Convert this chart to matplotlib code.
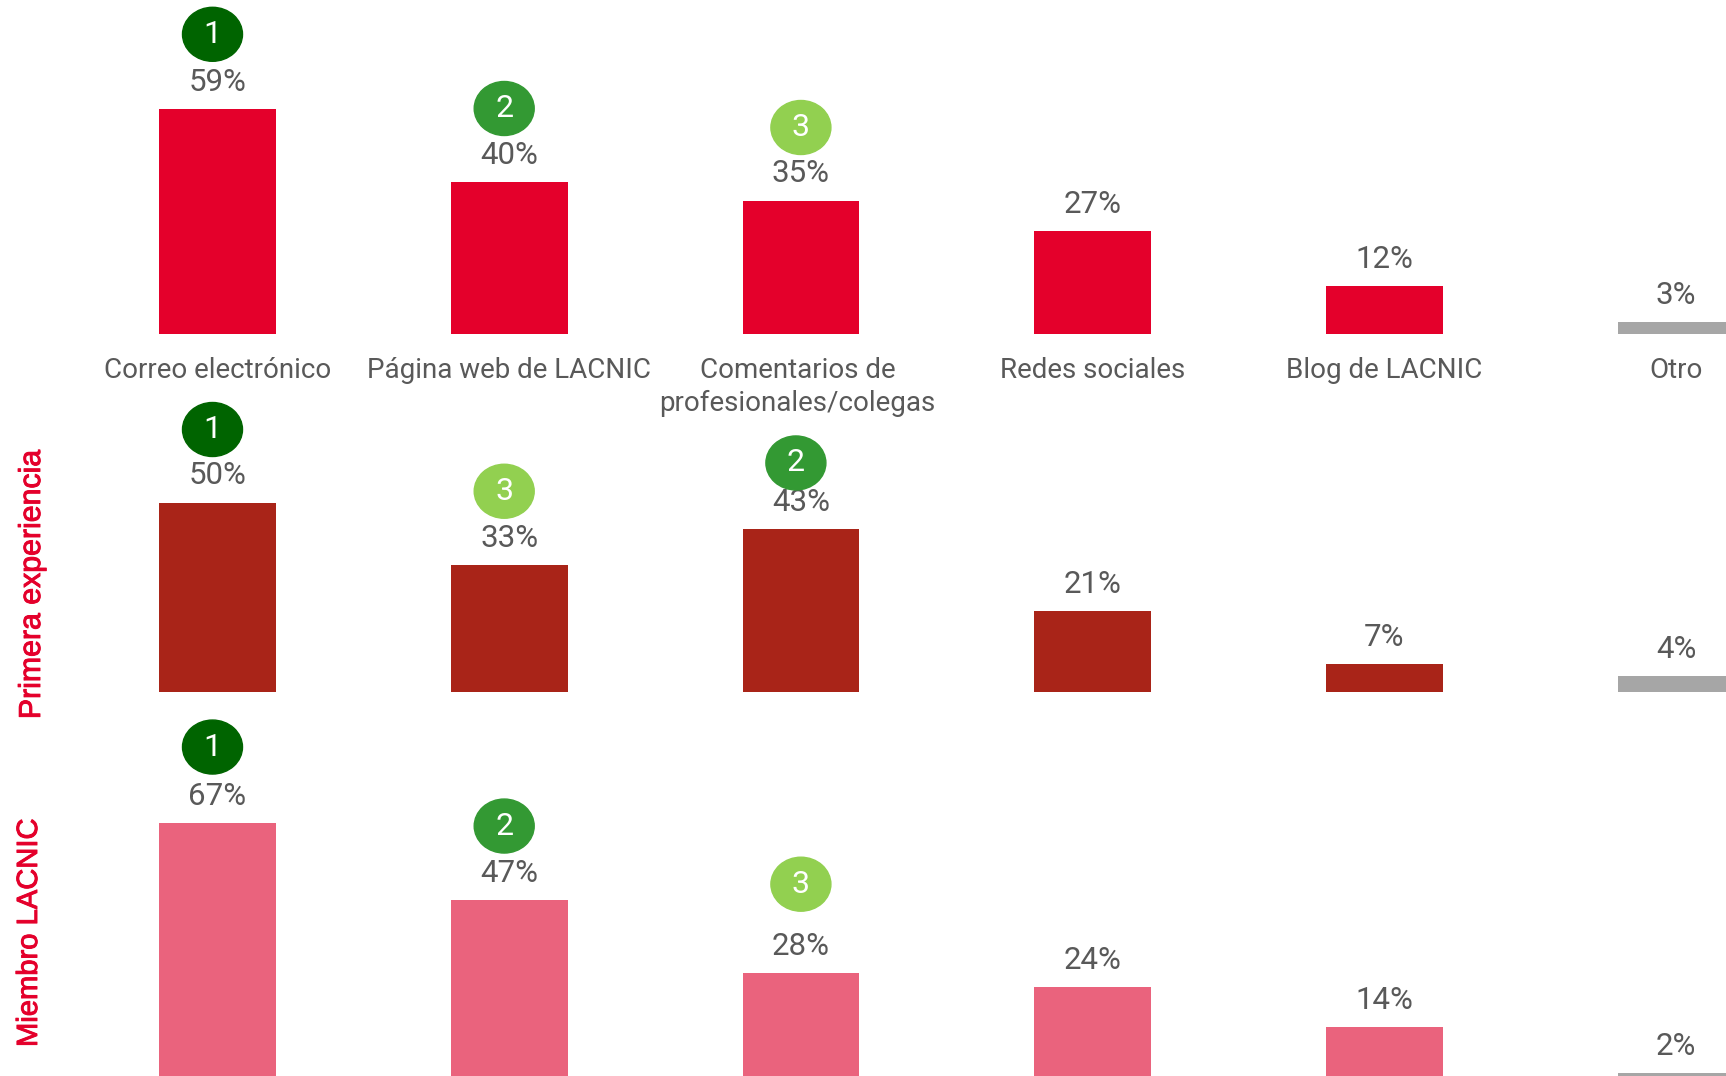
#!/usr/bin/env python
import matplotlib
matplotlib.use("Agg")
import matplotlib.pyplot as plt
import matplotlib.patheffects as pe
from matplotlib.patches import Ellipse
from matplotlib.transforms import ScaledTranslation

categories = ["Correo electrónico", "Página web de LACNIC",
              "Comentarios de\nprofesionales/colegas", "Redes sociales",
              "Blog de LACNIC", "Otro"]
# bar heights, the labels show them rounded
total = [59, 40, 35, 27, 12.4, 3]
primera = [50, 33.4, 43, 21.4, 7.4, 4]
miembro = [67, 47, 28, 24.4, 14, 2]
rank_total = [1, 2, 3]
rank_primera = [1, 3, 2]
rank_miembro = [1, 2, 3]

W, H = 1726, 1076
PX_X = 291.7  # px per category
X0 = 217.5
GREY = "#A6A6A6"
TEXT = "#595959"
RED = "#E4002B"
RANK_COLORS = {1: "#006400", 2: "#339933", 3: "#92D050"}
LABEL_FONT = ["Roboto", "DejaVu Sans"]

fig = plt.figure(figsize=(W / 100, H / 100), dpi=100)


def panel(values, ranks, color, base_px, scale=3.8, ticks=False, shifts=None):
    shifts = shifts or {}
    # axes spans the figure width, y scale set so 1% = scale px
    ax = fig.add_axes([0, 1 - base_px / H, 1, 300 / H])
    ax.patch.set_alpha(0)
    ax.set_xlim(-X0 / PX_X, (W - X0) / PX_X)
    ax.set_ylim(0, 300 / scale)
    for s in ax.spines.values():
        s.set_visible(False)
    ax.set_yticks([])
    x = list(range(len(values)))
    colors = [color] * (len(values) - 1) + [GREY]
    ax.bar(x, values, width=0.4, color=colors)
    for i, v in zip(x, values):
        ax.annotate(f"{round(v)}%", (i, v), xytext=(0, 26.5 * 0.72), textcoords="offset points",
                    ha="center", va="center", fontsize=22.5, color=TEXT,
                    family=LABEL_FONT, annotation_clip=False)
    for i, r in enumerate(ranks):
        dx, dy = shifts.get(i, (-5, 0))
        cx = i + dx / PX_X
        cy = values[i] + (75 + dy) / scale
        ax.add_patch(Ellipse((cx, cy), 60 / PX_X, 54 / scale, color=RANK_COLORS[r],
                             clip_on=False, zorder=3))
        ax.text(cx, cy, str(r), color="white", fontsize=23, ha="center", va="center",
                family=LABEL_FONT, zorder=4, clip_on=False)
    if ticks:
        ax.set_xticks(x, categories, fontsize=20, color=TEXT, family=LABEL_FONT,
                      linespacing=1.3)
        ax.tick_params(axis="x", length=0, pad=17)
        # the two line label sits a little left of its bar
        lab = ax.get_xticklabels()[2]
        lab.set_transform(lab.get_transform() + ScaledTranslation(-3.3 / 100, 0, fig.dpi_scale_trans))
    else:
        ax.set_xticks([])
    return ax


panel(total, rank_total, "#E4002B", 333.5, ticks=True, shifts={1: (-5, -2), 2: (0, -2)})
panel(primera, rank_primera, "#A92418", 691.5, scale=3.78,
      shifts={0: (-5, -2), 1: (-5, -1), 2: (-5, -9)})
panel(miembro, rank_miembro, "#EA637D", 1081, scale=3.85,
      shifts={0: (-5, 1), 1: (-5, -1), 2: (0, 14)})

stroke = [pe.withStroke(linewidth=0.7, foreground=RED)]
fig.text(32 / W, 1 - 585 / H, "Primera experiencia", rotation=90, color=RED, fontsize=21.8,
         family="Liberation Sans", ha="center", va="center", path_effects=stroke)
fig.text(29 / W, 1 - 933 / H, "Miembro LACNIC", rotation=90, color=RED, fontsize=21,
         family="Liberation Sans", ha="center", va="center", path_effects=stroke)

plt.savefig("out.png", dpi=100)
plt.close()
